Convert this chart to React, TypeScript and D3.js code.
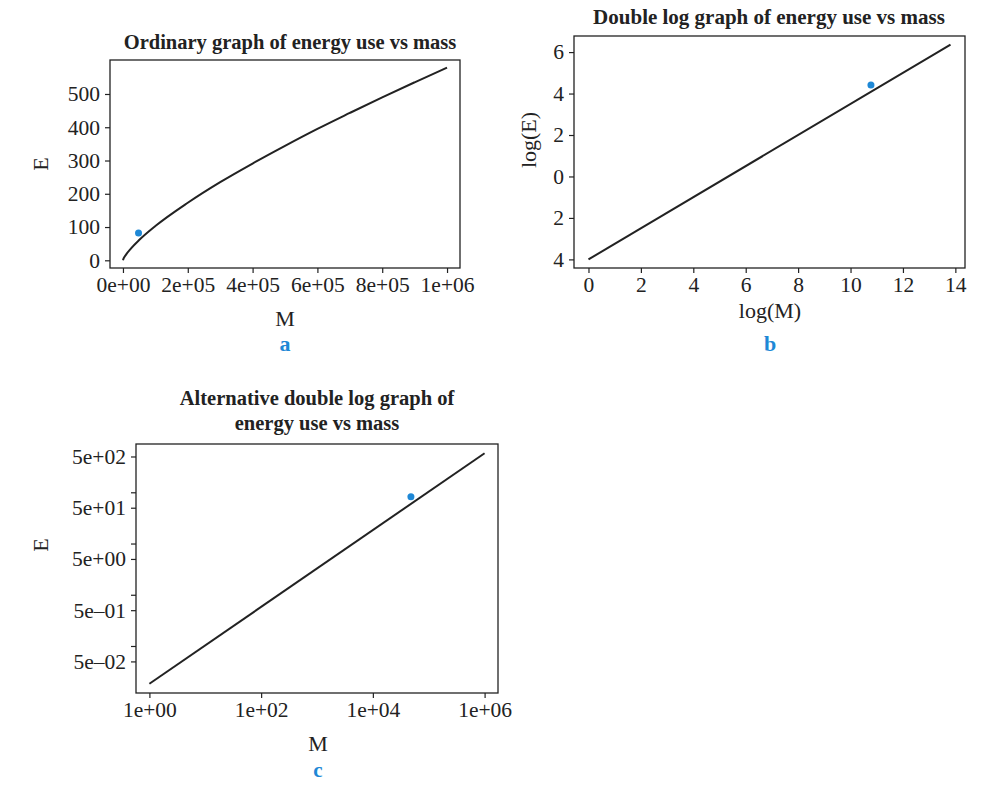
import React, { useEffect, useRef } from "react";
import * as d3 from "d3";

// fitted curve of panel a
const curveM = [1, 2000, 10000, 25000, 50000, 100000, 200000, 300000, 400000, 500000, 600000, 700000, 800000, 900000, 1000000];
const curveE = [0.02, 5.5, 18, 36, 61, 103, 173, 235, 291, 344, 395, 443, 490, 535, 579];

// straight fit line of panels b and c (end points)
const lineM = [1, 1000000];
const lineE = [0.0183, 579];

// the single observation (blue dot)
const pointM = [48000];
const pointE = [82];

const ticksAx = [0, 2e5, 4e5, 6e5, 8e5, 1e6];
const ticksAy = [0, 100, 200, 300, 400, 500];
const ticksBx = [0, 2, 4, 6, 8, 10, 12, 14];
const ticksBy = [-4, -2, 0, 2, 4, 6];
const ticksCx = [1, 1e2, 1e4, 1e6];
const ticksCy = [0.05, 0.5, 5, 50, 500];
const ticksCyMinor = [0.1, 1, 10, 100];

const FONT = "'Liberation Serif', 'DejaVu Serif', serif";
const INK = "#222";
const BLUE = "#1e88d6";
const TICK_FS = 21.5;
const LAB_FS = 22;
const TITLE_FS = 20.5;

// R style exponent labels: 2e+05, 5e-02
function sci(d: number) {
  const [m, e] = d.toExponential(0).split("e");
  const sign = e[0] === "-" ? "\u2013" : "+";
  const num = e.replace(/[+-]/, "").padStart(2, "0");
  return `${m}e${sign}${num}`;
}

// R pads the data range by 4% on each side
function pad(ext: number[]) {
  const r = ext[1] - ext[0];
  return [ext[0] - r * 0.04, ext[1] + r * 0.04];
}

export default function App() {
  const ref = useRef<SVGSVGElement>(null);

  useEffect(() => {
    const svg = d3.select(ref.current);
    svg.selectAll("*").remove();
    svg.append("rect").attr("width", 996).attr("height", 785).attr("fill", "#fff");

    const drawAxes = (g, x, y, box, xt, yt, xf, yf, yMinor) => {
      g.append("g")
        .attr("transform", `translate(0,${box.b})`)
        .call(d3.axisBottom(x).tickValues(xt).tickFormat(xf).tickSize(5).tickSizeOuter(0).tickPadding(4))
        .call((a) => a.select(".domain").remove());
      g.append("g")
        .attr("transform", `translate(${box.l},0)`)
        .call(d3.axisLeft(y).tickValues(yt).tickFormat(yf).tickSize(5).tickSizeOuter(0).tickPadding(5))
        .call((a) => a.select(".domain").remove());
      if (yMinor) {
        g.append("g")
          .attr("transform", `translate(${box.l},0)`)
          .call(d3.axisLeft(y).tickValues(yMinor).tickFormat(() => "").tickSize(5).tickSizeOuter(0))
          .call((a) => a.select(".domain").remove());
      }
      g.selectAll(".tick line").attr("stroke", INK).attr("stroke-width", 1.2);
      g.selectAll(".tick text").attr("fill", INK).attr("font-family", FONT).attr("font-size", TICK_FS);
      g.append("rect")
        .attr("x", box.l).attr("y", box.t)
        .attr("width", box.r - box.l).attr("height", box.b - box.t)
        .attr("fill", "none").attr("stroke", INK).attr("stroke-width", 1.3);
    };

    const text = (g, x, y, s, o: any = {}) =>
      g.append("text")
        .attr("x", x).attr("y", y)
        .attr("text-anchor", "middle")
        .attr("dominant-baseline", "central")
        .attr("font-family", FONT)
        .attr("font-size", o.size || LAB_FS)
        .attr("font-weight", o.bold ? "bold" : "normal")
        .attr("fill", o.fill || INK)
        .attr("transform", o.rot ? `rotate(-90,${x},${y})` : null)
        .text(s);

    // ---- panel a: ordinary scale
    {
      const box = { l: 110, r: 460, t: 60, b: 268 };
      const g = svg.append("g");
      const x = d3.scaleLinear().domain(pad(d3.extent(curveM))).range([box.l, box.r]);
      const y = d3.scaleLinear().domain(pad(d3.extent(curveE))).range([box.b, box.t]);
      drawAxes(g, x, y, box, ticksAx, ticksAy, sci, d3.format("d"), null);
      const line = d3.line<number>().x((d, i) => x(curveM[i])).y((d) => y(d)).curve(d3.curveMonotoneX);
      g.append("path").attr("d", line(curveE)).attr("fill", "none").attr("stroke", INK).attr("stroke-width", 2);
      g.selectAll(".pt").data(pointE).join("circle")
        .attr("cx", (d, i) => x(pointM[i])).attr("cy", (d) => y(d)).attr("r", 3.5).attr("fill", BLUE);
      text(g, 290, 42, "Ordinary graph of energy use vs mass", { bold: true, size: TITLE_FS });
      text(g, 40, 164, "E", { rot: true });
      text(g, 285, 318, "M");
      text(g, 285, 343, "a", { bold: true, fill: BLUE });
    }

    // ---- panel b: natural logs of both
    {
      const box = { l: 574, r: 965, t: 36, b: 268 };
      const g = svg.append("g");
      const lx = lineM.map((d) => Math.log(d));
      const ly = lineE.map((d) => Math.log(d));
      const x = d3.scaleLinear().domain(pad(d3.extent(lx))).range([box.l, box.r]);
      const y = d3.scaleLinear().domain(pad(d3.extent(ly))).range([box.b, box.t]);
      drawAxes(g, x, y, box, ticksBx, ticksBy, d3.format("d"), (d) => String(Math.abs(d)), null);
      const line = d3.line<number>().x((d, i) => x(lx[i])).y((d) => y(d));
      g.append("path").attr("d", line(ly)).attr("fill", "none").attr("stroke", INK).attr("stroke-width", 2);
      g.selectAll(".pt").data(pointE).join("circle")
        .attr("cx", (d, i) => x(Math.log(pointM[i]))).attr("cy", (d) => y(Math.log(d))).attr("r", 3.5).attr("fill", BLUE);
      text(g, 769, 17, "Double log graph of energy use vs mass", { bold: true, size: 21 });
      text(g, 528, 140, "log(E)", { rot: true });
      text(g, 770, 310, "log(M)");
      text(g, 770, 343, "b", { bold: true, fill: BLUE });
    }

    // ---- panel c: log axes
    {
      const box = { l: 136, r: 498, t: 444, b: 693 };
      const g = svg.append("g");
      const xe = pad(d3.extent(lineM).map(Math.log10)).map((d) => 10 ** d);
      const ye = pad(d3.extent(lineE).map(Math.log10)).map((d) => 10 ** d);
      const x = d3.scaleLog().domain(xe).range([box.l, box.r]);
      const y = d3.scaleLog().domain(ye).range([box.b, box.t]);
      drawAxes(g, x, y, box, ticksCx, ticksCy, sci, sci, ticksCyMinor);
      const line = d3.line<number>().x((d, i) => x(lineM[i])).y((d) => y(d));
      g.append("path").attr("d", line(lineE)).attr("fill", "none").attr("stroke", INK).attr("stroke-width", 2);
      g.selectAll(".pt").data(pointE).join("circle")
        .attr("cx", (d, i) => x(pointM[i])).attr("cy", (d) => y(d)).attr("r", 3.5).attr("fill", BLUE);
      text(g, 317, 398, "Alternative double log graph of", { bold: true, size: TITLE_FS });
      text(g, 317, 423, "energy use vs mass", { bold: true, size: TITLE_FS });
      text(g, 40, 545, "E", { rot: true });
      text(g, 318, 743, "M");
      text(g, 318, 770, "c", { bold: true, fill: BLUE, size: 21 });
    }
  }, []);

  return (
    <svg ref={ref} width={996} height={785} style={{ position: "absolute", left: 0, top: 0 }} />
  );
}
